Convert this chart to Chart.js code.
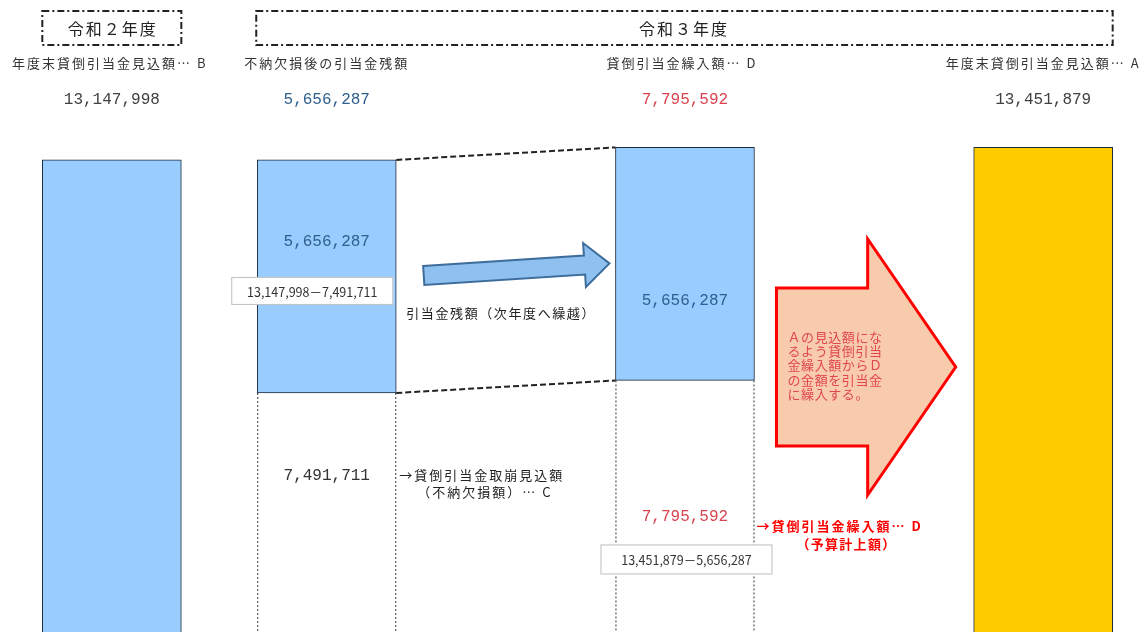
<!DOCTYPE html>
<html lang="ja">
<head>
<meta charset="utf-8">
<title>貸倒引当金の見込額</title>
<script src="https://cdn.jsdelivr.net/npm/chart.js@4.4.1/dist/chart.umd.min.js"></script>
<style>
  html, body { margin: 0; padding: 0; background: #fff; overflow: hidden; }
  #wrap { position: relative; width: 1145px; height: 632px; }
</style>
</head>
<body>
<div id="wrap"><canvas id="chart"></canvas></div>
<script>
// ---- data -------------------------------------------------------------
const fiscalYears = ['令和２年度', '令和３年度'];
const headings = ['年度末貸倒引当金見込額… B', '不納欠損後の引当金残額', '貸倒引当金繰入額… D', '年度末貸倒引当金見込額… A'];
// upper (coloured) part of each column, lower (dotted) part below it
const upperValues = [13147998, 5656287, 5656287, 13451879];
const lowerValues = [null, 7491711, 7795592, null];

// ---- layout -----------------------------------------------------------
// column index of each bar on the category axis (spacers leave room for the arrows)
const SLOT = [0, 3, 8, 13];
const N_SLOTS = 14;
const spread = arr => {
    const out = new Array(N_SLOTS).fill(null);
    SLOT.forEach((s, i) => { out[s] = arr[i]; });
    return out;
};

const BLUE = '#99CCFF';
const GOLD = '#FFCC00';
const EDGE = '#1E2B3C';
const NUM_BLUE = '#2F5F8F';
const NUM_RED = '#D9434E';
const RED = '#FF0000';
const JP = "'Noto Sans CJK JP', 'Noto Sans', sans-serif";
const MONO = "'Liberation Mono', 'DejaVu Sans Mono', monospace";

const fmt = v => v.toLocaleString('en-US');
// the figure quoted above each column
const headline = [upperValues[0], upperValues[1], lowerValues[2], upperValues[3]];

function text(ctx, str, x, y, font, color, align, spacing) {
    ctx.font = font;
    ctx.fillStyle = color;
    ctx.textAlign = align || 'center';
    ctx.textBaseline = 'middle';
    ctx.letterSpacing = (spacing || 0) + 'px';
    ctx.fillText(str, x, y);
    ctx.letterSpacing = '0px';
}

function blockArrowPath(ctx, x0, y0, x1, y1, shaftHalf, headLen, headHalf) {
    const len = Math.hypot(x1 - x0, y1 - y0);
    ctx.save();
    ctx.translate(x0, y0);
    ctx.rotate(Math.atan2(y1 - y0, x1 - x0));
    ctx.beginPath();
    ctx.moveTo(0, -shaftHalf);
    ctx.lineTo(len - headLen, -shaftHalf);
    ctx.lineTo(len - headLen, -headHalf);
    ctx.lineTo(len, 0);
    ctx.lineTo(len - headLen, headHalf);
    ctx.lineTo(len - headLen, shaftHalf);
    ctx.lineTo(0, shaftHalf);
    ctx.closePath();
    ctx.restore();
}

function dashedBox(ctx, l, t, r, b) {
    ctx.save();
    ctx.strokeStyle = '#222';
    ctx.lineWidth = 2;
    ctx.setLineDash([7, 3, 2, 3]);
    ctx.strokeRect(l, t, r - l, b - t);
    ctx.restore();
}

function callout(ctx, l, t, w, h, str) {
    ctx.save();
    ctx.fillStyle = '#fff';
    ctx.fillRect(l, t, w, h);
    ctx.strokeStyle = '#BFBFBF';
    ctx.lineWidth = 1;
    ctx.strokeRect(l + 0.5, t + 0.5, w - 1, h - 1);
    ctx.restore();
    text(ctx, str, l + w / 2, t + h / 2 + 1, '12.5px ' + JP, '#333');
}

// annotations drawn on top of the bars
const diagram = {
    id: 'diagram',
    afterDatasetsDraw(chart) {
        const ctx = chart.ctx;
        const bottom = chart.height;
        const up = chart.getDatasetMeta(1).data;
        const bar = i => {
            const el = up[SLOT[i]];
            return { x: el.x, left: el.x - el.width / 2, right: el.x + el.width / 2, top: el.y, bottom: el.base };
        };
        const b1 = bar(0), b2 = bar(1), b3 = bar(2), b4 = bar(3);

        ctx.save();
        // dotted sides of the lower parts
        ctx.strokeStyle = '#333';
        ctx.lineWidth = 1;
        ctx.setLineDash([2, 2]);
        [b2, b3].forEach(b => {
            ctx.beginPath();
            ctx.moveTo(b.left + 0.5, b.bottom);
            ctx.lineTo(b.left + 0.5, bottom);
            ctx.moveTo(b.right - 0.5, b.bottom);
            ctx.lineTo(b.right - 0.5, bottom);
            ctx.stroke();
        });

        // dashed connectors between the carried-over parts
        ctx.strokeStyle = '#222';
        ctx.lineWidth = 2;
        ctx.setLineDash([6, 3]);
        ctx.beginPath();
        ctx.moveTo(b2.right, b2.top);
        ctx.lineTo(b3.left, b3.top);
        ctx.moveTo(b2.right, b2.bottom);
        ctx.lineTo(b3.left, b3.bottom);
        ctx.stroke();
        ctx.setLineDash([]);

        // carry-over arrow
        blockArrowPath(ctx, b2.right + 27.5, b2.top + 115.5, b3.left - 6, b3.top + 116, 9.5, 25, 22);
        ctx.fillStyle = '#8FC1F0';
        ctx.fill();
        ctx.strokeStyle = '#3E6D9C';
        ctx.lineWidth = 2;
        ctx.stroke();

        // large arrow towards A
        blockArrowPath(ctx, b3.right + 22, 367, b4.left - 18, 367, 79, 88, 128);
        ctx.fillStyle = '#F8CBAD';
        ctx.fill();
        ctx.strokeStyle = RED;
        ctx.lineWidth = 3;
        ctx.lineJoin = 'miter';
        ctx.stroke();
        ctx.restore();

        ['Ａの見込額にな', 'るよう貸倒引当', '金繰入額からＤ', 'の金額を引当金', 'に繰入する。'].forEach((ln, k) => {
            text(ctx, ln, b3.right + 33, 337 + k * 14.2, '13px ' + JP, '#E0474C', 'left', 0.6);
        });

        // fiscal year boxes
        dashedBox(ctx, b1.left, 11, b1.right, 45);
        dashedBox(ctx, b2.left - 1, 11, b4.right, 45);
        text(ctx, fiscalYears[0], b1.x + 1, 29, '16px ' + JP, '#222', 'center', 2);
        text(ctx, fiscalYears[1], (b2.left + b4.right) / 2 - 1, 29, '16px ' + JP, '#222', 'center', 2);

        // column headings and headline amounts
        const hx = [b1.x - 2, b2.x, b3.x - 3, b4.x];
        const hColor = ['#404040', NUM_BLUE, NUM_RED, '#404040'];
        headings.forEach((h, i) => {
            text(ctx, h, hx[i], 63, '13px ' + JP, '#333', 'center', 2);
            text(ctx, fmt(headline[i]), [b1, b2, b3, b4][i].x, 100, '16px ' + MONO, hColor[i]);
        });

        // amounts inside the columns
        text(ctx, fmt(upperValues[1]), b2.x, b2.top + 81.5, '16px ' + MONO, NUM_BLUE);
        text(ctx, fmt(upperValues[2]), b3.x, b3.top + 153, '16px ' + MONO, NUM_BLUE);
        text(ctx, fmt(lowerValues[1]), b2.x, b2.bottom + 83, '16px ' + MONO, '#333');
        text(ctx, fmt(lowerValues[2]), b3.x, b3.bottom + 136, '16px ' + MONO, NUM_RED);

        // explanatory labels
        text(ctx, '引当金残額（次年度へ繰越）', b2.right + 10, b2.top + 153, '13px ' + JP, '#222', 'left', 1.6);
        text(ctx, '→貸倒引当金取崩見込額', b2.right + 3, b2.bottom + 82, '13px ' + JP, '#222', 'left', 2);
        text(ctx, '（不納欠損額）… C', b2.right + 21, b2.bottom + 99, '13px ' + JP, '#222', 'left', 2);
        text(ctx, '→貸倒引当金繰入額… D', b3.right + 2, b3.bottom + 146, 'bold 13px ' + JP, RED, 'left', 2);
        text(ctx, '（予算計上額）', b3.right + 92, b3.bottom + 164, 'bold 13px ' + JP, RED, 'center', 1.3);

        // formula boxes
        callout(ctx, b2.left - 26, b2.top + 117, 162, 28, fmt(upperValues[0]) + '－' + fmt(lowerValues[1]));
        callout(ctx, b3.left - 15, b3.bottom + 164, 172, 30, fmt(upperValues[3]) + '－' + fmt(upperValues[2]));
    }
};

new Chart(document.getElementById('chart'), {
    type: 'bar',
    data: {
        labels: spread(headings).map(h => h || ''),
        datasets: [
            {
                label: '取崩・繰入額',
                data: spread(lowerValues),
                backgroundColor: 'rgba(255,255,255,0)',
                borderWidth: 0,
                barThickness: 139,
                stack: 'col',
                clip: false,
            },
            {
                label: '引当金',
                data: spread(upperValues),
                backgroundColor: c => (c.dataIndex === SLOT[3] ? GOLD : BLUE),
                borderColor: EDGE,
                borderWidth: 1,
                borderSkipped: false,
                barThickness: 139,
                stack: 'col',
                clip: false,
            },
        ],
    },
    options: {
        responsive: true, maintainAspectRatio: false,
        animation: false,
        layout: { padding: { left: 76, right: 66, top: 0, bottom: 0 } },
        plugins: { legend: { display: false }, tooltip: { enabled: false } },
        scales: {
            x: { display: false, stacked: true },
            y: { display: false, stacked: true, min: 1690000, max: 17030000 },
        },
    },
    plugins: [diagram],
});
</script>
</body>
</html>
